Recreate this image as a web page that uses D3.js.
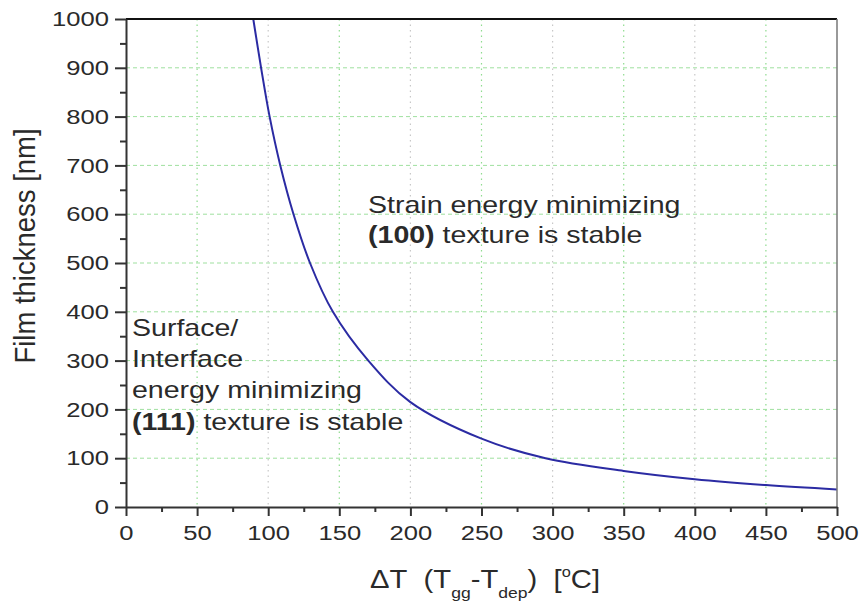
<!DOCTYPE html>
<html>
<head>
<meta charset="utf-8">
<script src="https://cdn.jsdelivr.net/npm/d3@7"></script>
<style>
  html, body { margin: 0; padding: 0; background: #fff; }
  text { font-family: "Liberation Sans", Arial, sans-serif; fill: #2a2a2a; }
</style>
</head>
<body>
<div id="root"></div>
<script>
// values
const deltaT = [89.5, 95, 101, 108.5, 117.8, 129.4, 145.5, 170.4, 200, 250, 295, 350, 400, 450, 500];
const thickness = [1000, 900, 800, 700, 600, 500, 400, 300, 215, 140, 100, 74, 57, 45, 36];
const xTicks = [0, 50, 100, 150, 200, 250, 300, 350, 400, 450, 500];
const yTicks = [0, 100, 200, 300, 400, 500, 600, 700, 800, 900, 1000];

const W = 861, H = 604;
const m = { left: 126, right: 837, top: 19, bottom: 507 };
const SX = 1.22; // the source image is horizontally stretched

const svg = d3.select("#root").append("svg")
  .attr("width", W).attr("height", H);

const x = d3.scaleLinear().domain([0, 500]).range([m.left, m.right]);
const y = d3.scaleLinear().domain([0, 1000]).range([m.bottom, m.top]);

// grid
const grid = svg.append("g");
grid.selectAll("line.h")
  .data(yTicks.filter(d => d > 0 && d < 1000))
  .join("line")
  .attr("x1", m.left).attr("x2", m.right)
  .attr("y1", d => y(d)).attr("y2", d => y(d))
  .attr("stroke", "#9fe09f").attr("stroke-width", 1)
  .attr("stroke-dasharray", "4,3");
grid.selectAll("line.v")
  .data(xTicks.filter(d => d > 0 && d < 500))
  .join("line")
  .attr("x1", d => x(d)).attr("x2", d => x(d))
  .attr("y1", m.top).attr("y2", m.bottom)
  .attr("stroke", d => d % 100 === 0 ? "#c8c8c8" : "#8fdc8f")
  .attr("stroke-width", 1.2)
  .attr("stroke-dasharray", "1.5,4");

// curve
const line = d3.line()
  .x((d, i) => x(deltaT[i]))
  .y(d => y(d))
  .curve(d3.curveCatmullRom.alpha(0.5));

svg.append("path")
  .datum(thickness)
  .attr("d", line)
  .attr("fill", "none")
  .attr("stroke", "#2b2ba3")
  .attr("stroke-width", 2);

// frame: top and right
svg.append("line")
  .attr("x1", m.left).attr("x2", m.right).attr("y1", m.top).attr("y2", m.top)
  .attr("stroke", "#111").attr("stroke-width", 2);
svg.append("line")
  .attr("x1", m.right).attr("x2", m.right).attr("y1", m.top).attr("y2", m.bottom)
  .attr("stroke", "#777").attr("stroke-width", 1.5);

// minor ticks
svg.append("g")
  .attr("transform", `translate(0,${m.bottom})`)
  .call(d3.axisBottom(x).tickValues(d3.range(25, 500, 50)).tickSize(5).tickFormat(""))
  .call(g => g.select(".domain").remove())
  .call(g => g.selectAll("line").attr("stroke", "#333").attr("stroke-width", 2));
svg.append("g")
  .attr("transform", `translate(${m.left},0)`)
  .call(d3.axisLeft(y).tickValues(d3.range(50, 1000, 100)).tickSize(6).tickFormat(""))
  .call(g => g.select(".domain").remove())
  .call(g => g.selectAll("line").attr("stroke", "#333").attr("stroke-width", 2));

// major axes
const xAxis = svg.append("g")
  .attr("transform", `translate(0,${m.bottom})`)
  .call(d3.axisBottom(x).tickValues(xTicks).tickFormat(d3.format("d")).tickSize(9).tickSizeOuter(0));
xAxis.selectAll("text")
  .attr("y", 18)
  .attr("transform", `scale(${SX},1)`)
  .style("font-size", "21px");

const yAxis = svg.append("g")
  .attr("transform", `translate(${m.left},0)`)
  .call(d3.axisLeft(y).tickValues(yTicks).tickFormat(d3.format("d")).tickSize(11).tickSizeOuter(0));
yAxis.selectAll("text")
  .attr("x", -17 / SX)
  .attr("transform", `scale(${SX},1)`)
  .style("font-size", "21px");

[xAxis, yAxis].forEach(g => {
  g.select(".domain").attr("stroke", "#333").attr("stroke-width", 2);
  g.selectAll(".tick line").attr("stroke", "#333").attr("stroke-width", 2);
  g.selectAll("text").attr("fill", "#2a2a2a").style("font-family", "'Liberation Sans', Arial, sans-serif");
});

// helper for stretched text
function label(px, py, size, sx) {
  return svg.append("text")
    .attr("transform", `translate(${px},${py}) scale(${sx},1)`)
    .style("font-size", size + "px");
}

// axis titles
svg.append("text")
  .attr("transform", "translate(35,246) rotate(-90) scale(1,1.1)")
  .attr("text-anchor", "middle")
  .style("font-size", "27.5px")
  .text("Film thickness [nm]");

const xt = label(485, 588, 25, 1.17).attr("text-anchor", "middle");
xt.append("tspan").text("\u0394T\u00a0\u00a0(T");
xt.append("tspan").attr("dy", 10).style("font-size", "15px").text("gg");
xt.append("tspan").attr("dy", -10).text("-T");
xt.append("tspan").attr("dy", 10).style("font-size", "15px").text("dep");
xt.append("tspan").attr("dy", -10).text(")\u00a0\u00a0[");
xt.append("tspan").attr("dy", -11).style("font-size", "14px").text("o");
xt.append("tspan").attr("dy", 11).text("C]");

// annotations
const ann = 1.19;
label(368, 213, 24, ann).text("Strain energy minimizing");
const a2 = label(368, 243, 24, ann);
a2.append("tspan").style("font-weight", "bold").text("(100)");
a2.append("tspan").text(" texture is stable");

label(132, 336, 24, ann).text("Surface/");
label(132, 367, 24, ann).text("Interface");
label(132, 398, 24, ann).text("energy minimizing");
const a4 = label(132, 430, 24, ann);
a4.append("tspan").style("font-weight", "bold").text("(111)");
a4.append("tspan").text(" texture is stable");
</script>
</body>
</html>
